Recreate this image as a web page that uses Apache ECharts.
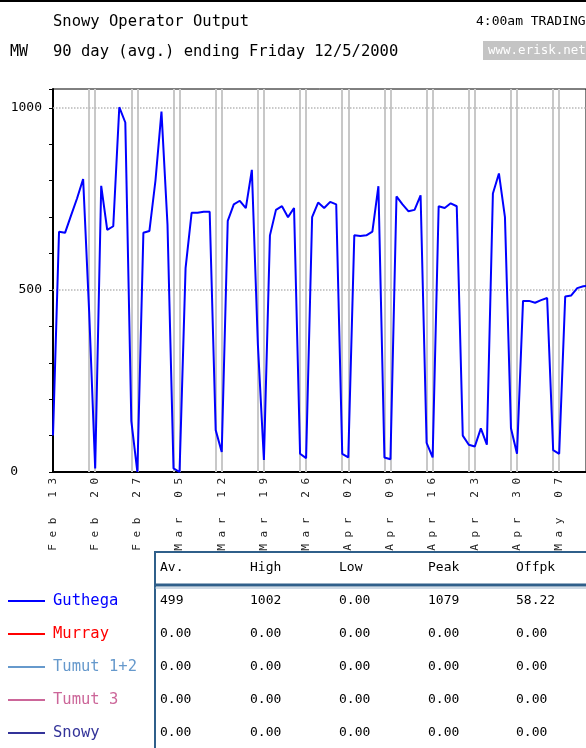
<!DOCTYPE html>
<html><head><meta charset="utf-8">
<script src="https://cdn.jsdelivr.net/npm/echarts@6/dist/echarts.min.js"></script>
<style>
html,body{margin:0;padding:0;background:#fff;}
#chart{width:586px;height:748px;}
</style></head><body><div id="chart"></div>
<script>
// ---- data ----
const weekLabels = ['Feb 13','Feb 20','Feb 27','Mar 05','Mar 12','Mar 19','Mar 26','Apr 02','Apr 09','Apr 16','Apr 23','Apr 30','May 07'];
// daily average MW for Guthega, day 0 = Sun 13 Feb 2000
const guthega = [
  100,660,657,705,752,805,440,10,786,665,
  675,1002,960,140,0,657,662,800,990,680,
  10,0,560,712,712,715,715,115,55,690,
  735,745,725,830,350,33,650,720,730,700,
  725,50,38,700,740,725,742,735,50,40,
  650,648,650,660,785,40,35,757,735,716,
  720,760,80,40,730,725,738,730,100,75,
  70,120,75,765,820,700,120,50,470,470,
  465,472,478,60,50,482,485,505,510,512
];
const weekendDays = [6,7,13,14,20,21,27,28,34,35,41,42,48,49,55,56,62,63,69,70,76,77,83,84];
const gridValues = [500,1000];
const yLabels = [0,500,1000];
const seriesNames = ['Guthega','Murray','Tumut 1+2','Tumut 3','Snowy'];
const seriesColors = ['#0000ff','#ff0000','#6699cc','#cc6699','#333399'];
const statHeaders = ['Av.','High','Low','Peak','Offpk'];
const statRows = [
  ['499','1002','0.00','1079','58.22'],
  ['0.00','0.00','0.00','0.00','0.00'],
  ['0.00','0.00','0.00','0.00','0.00'],
  ['0.00','0.00','0.00','0.00','0.00'],
  ['0.00','0.00','0.00','0.00','0.00']
];
const titleLine1 = 'Snowy Operator Output';
const titleLine2 = '90 day (avg.) ending Friday 12/5/2000';
const unitLabel = 'MW';
const tradingLabel = '4:00am TRADING';
const siteLabel = 'www.erisk.net';

// ---- chart ----
const MONO = '"DejaVu Sans Mono", "Liberation Mono", monospace';
const chart = echarts.init(document.getElementById('chart'));

const colX = [160, 250, 339, 428, 516];
const rowY = [601, 634, 667, 700, 733];
const graphics = [
  {type:'rect', shape:{x:0,y:0,width:586,height:2}, style:{fill:'#000'}},
  {type:'text', x:53, y:22, style:{text:titleLine1, font:'15.5px '+MONO, fill:'#000', textVerticalAlign:'middle'}},
  {type:'text', x:10, y:52, style:{text:unitLabel, font:'15px '+MONO, fill:'#000', textVerticalAlign:'middle'}},
  {type:'text', x:53, y:52, style:{text:titleLine2, font:'15.5px '+MONO, fill:'#000', textVerticalAlign:'middle'}},
  {type:'text', x:476, y:22, style:{text:tradingLabel, font:'13px '+MONO, fill:'#000', textVerticalAlign:'middle'}},
  {type:'rect', shape:{x:483,y:41,width:120,height:19}, style:{fill:'#c4c4c4'}},
  {type:'text', x:488, y:51, style:{text:siteLabel, font:'12.5px '+MONO, fill:'#ffffff', textVerticalAlign:'middle'}},
  // table frame
  {type:'rect', shape:{x:155,y:552,width:500,height:260}, style:{fill:'none', stroke:'#2f5f8a', lineWidth:2}},
  {type:'line', shape:{x1:155,y1:585,x2:600,y2:585}, style:{stroke:'#2f5f8a', lineWidth:3}},
  {type:'line', shape:{x1:155,y1:588,x2:600,y2:588}, style:{stroke:'#9fb6cc', lineWidth:1}}
];
statHeaders.forEach((h,i)=>graphics.push({type:'text', x:colX[i], y:568, style:{text:h, font:'13px '+MONO, fill:'#000', textVerticalAlign:'middle'}}));
statRows.forEach((r,ri)=>r.forEach((v,ci)=>graphics.push({type:'text', x:colX[ci], y:rowY[ri], style:{text:v, font:'13px '+MONO, fill:'#000', textVerticalAlign:'middle'}})));
seriesNames.forEach((n,i)=>{
  graphics.push({type:'line', shape:{x1:8,y1:rowY[i],x2:45,y2:rowY[i]}, style:{stroke:seriesColors[i], lineWidth:2}});
  graphics.push({type:'text', x:53, y:rowY[i], style:{text:n, font:'15.5px '+MONO, fill:seriesColors[i], textVerticalAlign:'middle'}});
});

const spaced = s => s.split('').join(' ');

chart.setOption({
  animation:false,
  backgroundColor:'#fff',
  grid:{left:53, right:0, top:89, bottom:276, show:true, borderColor:'#000', borderWidth:1},
  xAxis:{
    type:'value', min:0, max:88.45, interval:7,
    axisLine:{lineStyle:{color:'#000', width:2}},
    axisTick:{show:false},
    splitLine:{show:false},
    axisLabel:{
      rotate:90, margin:6, fontFamily:MONO, fontSize:11, color:'#222',
      showMaxLabel:false,
      formatter: v => (v % 7 === 0 && weekLabels[v/7]) ? spaced(weekLabels[v/7]) : ''
    }
  },
  yAxis:{
    type:'value', min:0, max:1052, interval:100,
    axisLine:{show:true, lineStyle:{color:'#000', width:2}},
    axisTick:{show:true, length:4, lineStyle:{color:'#000'}},
    splitLine:{show:false},
    axisLabel:{
      margin:11, fontFamily:MONO, fontSize:13, color:'#000',
      formatter: v => v === 0 ? '{z|0}' : (yLabels.indexOf(v) >= 0 ? String(v) : ''),
      rich:{z:{padding:[0,24,0,0], fontFamily:MONO, fontSize:13, color:'#000'}}
    }
  },
  series:[
    {
      type:'line', data:[[0,0]], z:1, silent:true, showSymbol:false,
      lineStyle:{opacity:0},
      markLine:{
        z:1, silent:true, symbol:['none','none'], label:{show:false},
        data: weekendDays.map(d=>({xAxis:d, lineStyle:{color:'#c8c8c8', width:2, type:'solid'}}))
          .concat(gridValues.map(v=>({yAxis:v, lineStyle:{color:'#b8b8b8', width:1.5, type:'dotted'}})))
      }
    },
    {
      name:seriesNames[0], type:'line', z:10, showSymbol:false, clip:true,
      data: guthega.map((v,i)=>[i,v]),
      lineStyle:{color:seriesColors[0], width:2},
      itemStyle:{color:seriesColors[0]}
    }
  ],
  graphic: graphics
});
</script></body></html>
